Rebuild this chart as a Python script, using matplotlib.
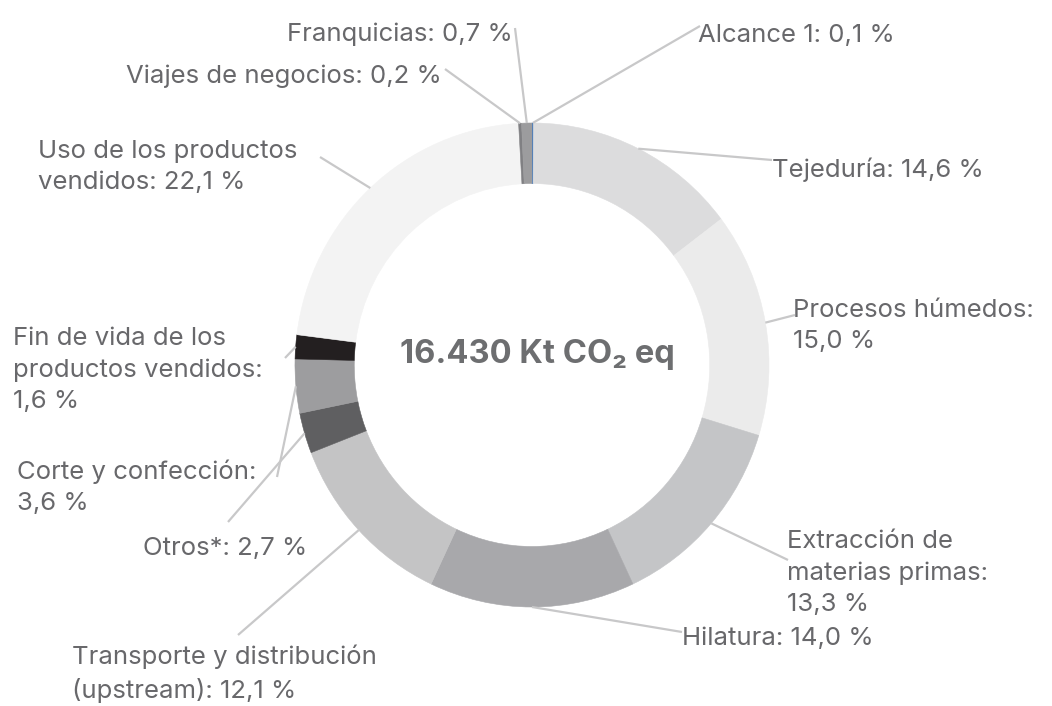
import numpy as np
import matplotlib.pyplot as plt

# ---------- Data ----------
categories = ["Alcance 1", "Tejeduría", "Procesos húmedos",
              "Extracción de materias primas", "Hilatura",
              "Transporte y distribución (upstream)", "Otros*",
              "Corte y confección", "Fin de vida de los productos vendidos",
              "Uso de los productos vendidos", "Viajes de negocios",
              "Franquicias"]
shares = [0.1, 14.6, 15.0, 13.3, 14.0, 12.1, 2.7, 3.6, 1.6, 22.1, 0.2, 0.7]
label_templates = ["Alcance 1: {}", "Tejeduría: {}", "Procesos húmedos:\n{}",
                   "Extracción de\nmaterias primas:\n{}", "Hilatura: {}",
                   "Transporte y distribución\n(upstream): {}", "Otros*: {}",
                   "Corte y confección:\n{}", "Fin de vida de los\nproductos vendidos:\n{}",
                   "Uso de los productos\nvendidos: {}", "Viajes de negocios: {}",
                   "Franquicias: {}"]
total_text = "16.430 Kt CO\u2082 eq"

colors = ["#3a76c0", "#dcdcdd", "#ebebeb", "#c4c5c7", "#a8a8ab", "#c4c4c5",
          "#5f5f61", "#9d9d9f", "#231f20", "#f3f3f3", "#808083", "#9c9c9e"]

# ---------- Layout (pixels, from top-left) ----------
W, H = 1052, 706
cx, cy, rx, ry = 532, 365, 237, 242
ring_width = 0.25

# text anchor (x, baseline of last line, ha), leader start (x, y)
text_pos = [(698, 42, "left"), (772, 177, "left"), (793, 348, "left"),
            (787, 611, "left"), (682, 645, "left"), (72, 698, "left"),
            (143, 555, "left"), (17, 510, "left"), (13, 408, "left"),
            (38, 189, "left"), (442, 83, "right"), (513, 41, "right")]
leader_start = [(700, 26), (772, 160), (795, 315), (788, 560), (682, 632),
                (238, 635), (228, 522), (277, 477), (285, 358), (320, 157),
                (445, 69), (515, 28)]

text_color = "#68686b"
line_color = "#c8c8c9"
plt.rcParams['font.family'] = ['Inter', 'DejaVu Sans']

fig = plt.figure(figsize=(W / 100, H / 100), dpi=100)

# ---------- Donut ----------
ax = fig.add_axes([0, 0, 1, 1])
ax.pie(shares, colors=colors, startangle=90, counterclock=False, radius=1,
       wedgeprops=dict(width=ring_width, linewidth=0.4))
for w, c in zip(ax.patches, colors):
    w.set_edgecolor(c)
ax.set_aspect('auto')
ax.set_xlim(-cx / rx, (W - cx) / rx)
ax.set_ylim((cy - H) / ry, cy / ry)
ax.axis('off')

# ---------- Labels and leader lines (pixel overlay) ----------
ov = fig.add_axes([0, 0, 1, 1])
ov.set_xlim(0, W)
ov.set_ylim(H, 0)
ov.axis('off')
ov.patch.set_alpha(0)

cum = np.cumsum([0] + shares[:-1])
for i, v in enumerate(shares):
    mid = (cum[i] + v / 2) / 100.0 * 2 * np.pi
    ex = cx + rx * np.sin(mid)
    ey = cy - ry * np.cos(mid)
    sx, sy = leader_start[i]
    ov.plot([sx, ex], [sy, ey], color=line_color, lw=1.6, solid_capstyle='butt')
    pct = f"{v:.1f}".replace(".", ",") + " %"
    tx, ty, ha = text_pos[i]
    ov.text(tx, ty, label_templates[i].format(pct), ha=ha, va='baseline',
            fontsize=18.5, color=text_color, linespacing=1.45)

ov.text(537, 355, total_text, ha='center', va='center', fontsize=23.5,
        fontweight='bold', color="#6d6e70")

plt.savefig("out.png", dpi=100)
plt.close()
